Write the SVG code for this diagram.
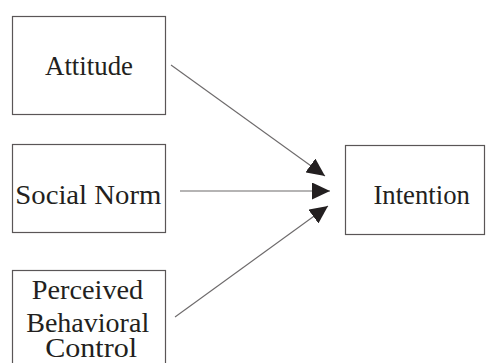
<svg xmlns="http://www.w3.org/2000/svg" width="486" height="363" viewBox="0 0 486 363">
<style>
.box{fill:#fff;stroke:#5a5657;stroke-width:1.2}
.lbl{font-family:"Liberation Serif","DejaVu Serif","Times New Roman",Times,serif;font-size:26.5px;fill:#231f20;text-anchor:middle}
.conn{stroke:#6d6a6b;stroke-width:1.1;fill:none}
</style>
<defs>
<marker id="ah" viewBox="0 0 18 17" refX="18" refY="8.5" markerWidth="18" markerHeight="17" markerUnits="userSpaceOnUse" orient="auto">
<path d="M0,0 L18,8.5 L0,17 z" fill="#231f20"/>
</marker>
</defs>
<rect width="486" height="363" fill="#fff"/>
<g id="connectors">
<line class="conn" x1="171" y1="65" x2="325" y2="176" marker-end="url(#ah)"/>
<line class="conn" x1="180" y1="191" x2="330" y2="191" marker-end="url(#ah)"/>
<line class="conn" x1="175" y1="317" x2="328" y2="206" marker-end="url(#ah)"/>
</g>
<g id="attitude">
<rect class="box" x="12.5" y="16.5" width="153" height="98"/>
<text class="lbl" x="89" y="74.5" textLength="88" lengthAdjust="spacingAndGlyphs">Attitude</text>
</g>
<g id="social-norm">
<rect class="box" x="12.5" y="144.5" width="153" height="88"/>
<text class="lbl" x="88.3" y="204" textLength="146" lengthAdjust="spacingAndGlyphs">Social Norm</text>
</g>
<g id="pbc">
<rect class="box" x="12.5" y="270.5" width="153" height="110"/>
<text class="lbl" x="87.5" y="299.3" textLength="111.5" lengthAdjust="spacingAndGlyphs">Perceived</text>
<text class="lbl" x="87.7" y="332" textLength="123" lengthAdjust="spacingAndGlyphs">Behavioral</text>
<text class="lbl" x="91.2" y="357" textLength="92" lengthAdjust="spacingAndGlyphs">Control</text>
</g>
<g id="intention">
<rect class="box" x="345.5" y="145.5" width="139" height="89"/>
<text class="lbl" x="421.7" y="204" textLength="96.5" lengthAdjust="spacingAndGlyphs">Intention</text>
</g>
</svg>
